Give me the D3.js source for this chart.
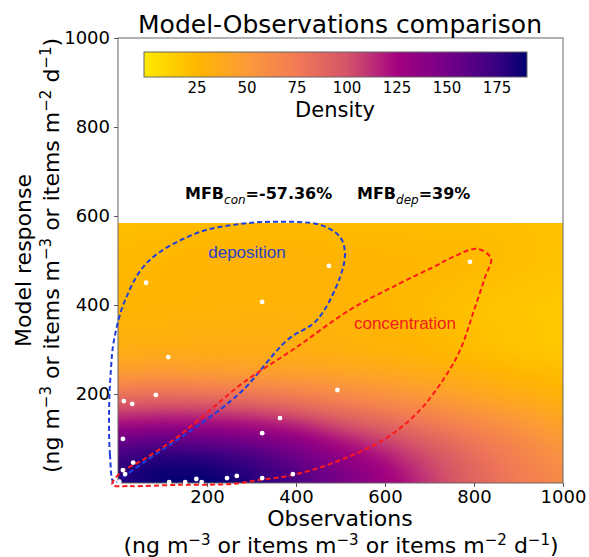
<!DOCTYPE html>
<html>
<head>
<meta charset="utf-8">
<script src="https://cdn.jsdelivr.net/npm/d3@7/dist/d3.min.js"></script>
<style>
  body { margin: 0; background: #fff; }
  text { font-family: 'DejaVu Sans', sans-serif; fill: #000; }
</style>
</head>
<body>
<svg id="chart" width="589" height="557"></svg>
<script>
var observations = [63, 324, 474, 791, 113, 85, 13, 32, 493, 364, 324, 11, 34, 11, 16, 115, 151, 176, 188, 245, 267, 324, 393, 3];
var modelResponse = [450, 407, 488, 497, 283, 198, 184, 178, 209, 146, 112, 99, 46, 29, 20, 2, 2, 9, 2, 11, 16, 11, 20, 3];

var gridObs = [0, 100, 200, 300, 400, 500, 600, 700, 800, 900, 1000];
var gridModel = [0, 50, 100, 150, 200, 250, 300, 400, 500, 600];
var densityGrid = [
  [180, 190, 190, 182, 168, 150, 130, 110, 90, 75, 63],
  [176, 184, 182, 174, 158, 140, 122, 104, 86, 71, 59],
  [152, 157, 153, 147, 137, 118, 104, 90, 76, 63, 49],
  [112, 115, 114, 110, 102, 90, 80, 69, 58, 48, 38],
  [80, 82, 80, 76, 70, 62, 55, 48, 40, 34, 28],
  [46, 48, 46, 45, 42, 40, 37, 33, 29, 24, 21],
  [32, 33, 33, 33, 32, 30, 28, 25, 21, 18, 16],
  [26, 26, 27, 28, 28, 27, 25, 22, 19, 17, 16],
  [24, 25, 27, 28, 28, 27, 26, 25, 24, 21, 19],
  [20, 21, 22, 22, 22, 21, 21, 21, 21, 20, 20]
];
var heatTop = 585;

var densityStops = [0, 25, 50, 75, 100, 115, 125, 150, 175, 190];
var densityColors = ['#ffe800', '#ffb600', '#fc9a38', '#f27a55', '#d45468', '#b8267a', '#a4007f', '#740088', '#380082', '#000070'];

var axisTicks = [200, 400, 600, 800, 1000];
var colorbarTicks = [25, 50, 75, 100, 125, 150, 175];

var depositionLoop = [
  [-9, 0], [-18, 63], [-20, 164], [-16, 254], [-9, 321], [16, 411], [67, 497], [178, 562],
  [274, 582], [357, 587], [454, 580], [499, 553], [510, 517], [499, 463], [447, 366], [380, 321],
  [281, 209], [207, 148], [133, 97], [56, 45], [11, 13]
];
var concentrationLoop = [
  [-13, -4], [27, -7], [139, -4], [258, -2], [319, 7], [393, 18], [483, 45], [596, 97],
  [672, 157], [730, 231], [769, 299], [798, 382], [825, 463], [838, 505], [807, 526], [753, 508],
  [708, 485], [634, 449], [521, 389], [398, 303], [281, 225], [207, 164], [133, 103], [56, 52], [4, 22]
];

var mfbLabels = [
  {x: 185, parts: [{t: 'MFB'}, {t: 'con', sub: true}, {t: '=-57.36%'}]},
  {x: 357, parts: [{t: 'MFB'}, {t: 'dep', sub: true}, {t: '=39%'}]}
];
var unitParts = [
  {t: '(ng m'}, {t: '\u22123', sup: true}, {t: ' or items m'}, {t: '\u22123', sup: true},
  {t: ' or items m'}, {t: '\u22122', sup: true}, {t: ' d'}, {t: '\u22121', sup: true}, {t: ')'}
];

var svg = d3.select('#chart')
  , x = d3.scaleLinear().domain([0, 1000]).range([118, 563])
  , y = d3.scaleLinear().domain([0, 1000]).range([483, 38])
  , color = d3.scaleLinear().domain(densityStops).range(densityColors).clamp(true);

function densityAt(ox, oy) {
  var i = Math.max(0, Math.min(gridObs.length - 2, d3.bisectRight(gridObs, ox) - 1))
    , j = Math.max(0, Math.min(gridModel.length - 2, d3.bisectRight(gridModel, oy) - 1))
    , tx = Math.max(0, Math.min(1, (ox - gridObs[i]) / (gridObs[i + 1] - gridObs[i])))
    , ty = Math.max(0, Math.min(1, (oy - gridModel[j]) / (gridModel[j + 1] - gridModel[j])))
    , lo = densityGrid[j][i] * (1 - tx) + densityGrid[j][i + 1] * tx
    , hi = densityGrid[j + 1][i] * (1 - tx) + densityGrid[j + 1][i + 1] * tx;
  return lo * (1 - ty) + hi * ty;
}

// density field, rendered with a margin then softened so the grid kinks disappear
var pad = 30
  , x0 = Math.round(x(0)), x1 = Math.round(x(1000))
  , yt = Math.round(y(heatTop)), yb = Math.round(y(0))
  , w = x1 - x0, h = yb - yt
  , raw = document.createElement('canvas');
raw.width = w + 2 * pad;
raw.height = h + 2 * pad;
var rctx = raw.getContext('2d')
  , img = rctx.createImageData(raw.width, raw.height);
for (var r = 0; r < raw.height; r++) {
  for (var c = 0; c < raw.width; c++) {
    var col = d3.rgb(color(densityAt(x.invert(x0 - pad + c + 0.5), y.invert(yt - pad + r + 0.5))))
      , k = (r * raw.width + c) * 4;
    img.data[k] = col.r;
    img.data[k + 1] = col.g;
    img.data[k + 2] = col.b;
    img.data[k + 3] = 255;
  }
}
rctx.putImageData(img, 0, 0);

var canvas = document.createElement('canvas');
canvas.width = w;
canvas.height = h;
var ctx = canvas.getContext('2d');
ctx.filter = 'blur(7px)';
ctx.drawImage(raw, -pad, -pad);

svg.append('image')
  .attr('x', x0).attr('y', yt)
  .attr('width', w).attr('height', h)
  .attr('preserveAspectRatio', 'none')
  .attr('href', canvas.toDataURL());

// axes
var yAxis = d3.axisLeft(y).tickValues(axisTicks).tickFormat(d3.format('d')).tickSizeInner(4).tickSizeOuter(0).tickPadding(4)
  , xAxis = d3.axisBottom(x).tickValues(axisTicks).tickFormat(d3.format('d')).tickSizeInner(4).tickSizeOuter(0).tickPadding(3);

svg.append('g').attr('transform', 'translate(' + x(0) + ',0)').call(yAxis);
svg.append('g').attr('transform', 'translate(0,' + y(0) + ')').call(xAxis);
svg.selectAll('.domain').remove();
svg.selectAll('.tick line').attr('stroke', '#555');
svg.selectAll('.tick text').style('font', '18px "DejaVu Sans", sans-serif').attr('fill', '#000');

svg.append('rect')
  .attr('x', x(0)).attr('y', y(1000))
  .attr('width', x(1000) - x(0)).attr('height', y(0) - y(1000))
  .attr('fill', 'none').attr('stroke', '#666').attr('stroke-width', 1);

// annotation loops
var loop = d3.line().x(function(d) { return x(d[0]); }).y(function(d) { return y(d[1]); })
  .curve(d3.curveCatmullRomClosed.alpha(0.5));

svg.append('path').datum(depositionLoop)
  .attr('d', loop).attr('fill', 'none')
  .attr('stroke', '#1f3fdc').attr('stroke-width', 2).attr('stroke-dasharray', '5,3');
svg.append('path').datum(concentrationLoop)
  .attr('d', loop).attr('fill', 'none')
  .attr('stroke', '#ff1a1a').attr('stroke-width', 2).attr('stroke-dasharray', '5,3');

// points
svg.append('g').selectAll('circle')
  .data(observations)
  .join('circle')
  .attr('cx', function(d) { return x(d); })
  .attr('cy', function(d, i) { return y(modelResponse[i]); })
  .attr('r', 2.4)
  .attr('fill', '#fff');

svg.append('text').attr('x', 247).attr('y', 258).attr('text-anchor', 'middle')
  .style('font', '17px "Liberation Sans", Arial, sans-serif').style('fill', '#2a42c8')
  .text('deposition');
svg.append('text').attr('x', 405).attr('y', 329).attr('text-anchor', 'middle')
  .style('font', '17px "Liberation Sans", Arial, sans-serif').style('fill', '#f01c1c')
  .text('concentration');

// MFB
mfbLabels.forEach(function(m) {
  var t = svg.append('text').attr('x', m.x).attr('y', 199).style('font-size', '16px').style('font-weight', 'bold');
  var shifted = false;
  m.parts.forEach(function(p) {
    var s = t.append('tspan').text(p.t);
    if (p.sub) {
      s.attr('dy', 5).style('font-size', '12px').style('font-style', 'italic').style('font-weight', 'normal');
      shifted = true;
    } else if (shifted) {
      s.attr('dy', -5);
      shifted = false;
    }
  });
});

// title
svg.append('text').attr('x', 340).attr('y', 33).attr('text-anchor', 'middle')
  .style('font-size', '25px').text('Model-Observations comparison');

// axis titles
function unitLine(t) {
  var up = false;
  unitParts.forEach(function(p) {
    var s = t.append('tspan').text(p.t);
    if (p.sup) {
      s.attr('dy', -8).style('font-size', '15px');
      up = true;
    } else if (up) {
      s.attr('dy', 8);
      up = false;
    }
  });
}

svg.append('text').attr('x', 340).attr('y', 526).attr('text-anchor', 'middle')
  .style('font-size', '22px').text('Observations');
unitLine(svg.append('text').attr('x', 341).attr('y', 553).attr('text-anchor', 'middle').style('font-size', '22px'));

var yl = svg.append('g').attr('transform', 'translate(0,' + ((y(0) + y(1000)) / 2) + ') rotate(-90)');
yl.append('text').attr('x', 0).attr('y', 31).attr('text-anchor', 'middle')
  .style('font-size', '22px').text('Model response');
unitLine(yl.append('text').attr('x', 5).attr('y', 59).attr('text-anchor', 'middle').style('font-size', '22px'));

// colorbar
var cb = d3.scaleLinear().domain([-1.5, 190]).range([144, 527])
  , grad = svg.append('defs').append('linearGradient').attr('id', 'cbgrad');
grad.selectAll('stop')
  .data(densityStops)
  .join('stop')
  .attr('offset', function(d) { return Math.max(0, (cb(d) - cb.range()[0]) / (cb.range()[1] - cb.range()[0])); })
  .attr('stop-color', function(d, i) { return densityColors[i]; });

svg.append('rect')
  .attr('x', cb.range()[0]).attr('y', 52)
  .attr('width', cb.range()[1] - cb.range()[0]).attr('height', 25)
  .attr('fill', 'url(#cbgrad)').attr('stroke', '#666').attr('stroke-width', 1);

svg.append('g').selectAll('text')
  .data(colorbarTicks)
  .join('text')
  .attr('x', function(d) { return cb(d); })
  .attr('y', 93)
  .attr('text-anchor', 'middle')
  .style('font-size', '15px')
  .text(function(d) { return d; });

svg.append('text').attr('x', 335).attr('y', 117).attr('text-anchor', 'middle')
  .style('font-size', '21px').text('Density');
</script>
</body>
</html>
